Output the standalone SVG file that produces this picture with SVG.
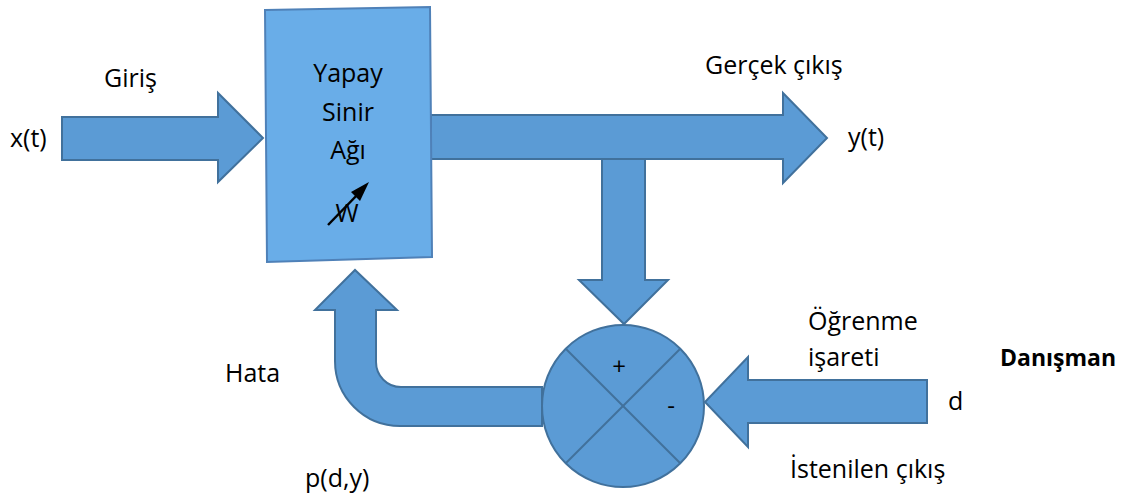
<svg xmlns="http://www.w3.org/2000/svg" width="1132" height="501" viewBox="0 0 1132 501">
<style>
.shape{fill:#5b9bd5;stroke:#41719c;stroke-width:2;stroke-linejoin:miter}
.box{fill:#69ade8;stroke:#4f81b8;stroke-width:2}
.t{font-family:"Open Sans","Liberation Sans",sans-serif;font-size:25px;fill:#000}
.c{text-anchor:middle}
.b{font-weight:bold;font-size:23px}
.line{stroke:#41719c;stroke-width:2}
</style>
<rect width="1132" height="501" fill="#fff"/>
<g id="connectors">
<path id="input-arrow" class="shape" d="M62,117 L218,117 L218,93 L263,138 L218,182 L218,160 L62,160 Z"/>
<path id="output-arrow" class="shape" d="M431,115 L783,115 L783,93 L827,138 L783,183 L783,159 L431,159 Z"/>
<path id="down-arrow" class="shape" d="M602,159 L645,159 L645,280 L668,280 L624,324 L579,280 L602,280 Z"/>
<path id="desired-arrow" class="shape" d="M927,380 L748,380 L748,357 L705,402 L748,447 L748,423 L927,423 Z"/>
<path id="error-arrow" class="shape" d="M542,387 L401,387 A25,25 0 0 1 376,362 L376,310 L397,310 L355,270 L315,310 L335,310 L335,361 A65,65 0 0 0 400,426 L542,426 Z"/>
</g>
<g id="ann">
<path class="box" d="M265,10 L430,7 L432,257 L267,262 Z"/>
<text class="t c" x="348" y="82">Yapay</text>
<text class="t c" x="348" y="121">Sinir</text>
<text class="t c" x="348" y="159">Ağı</text>
<text class="t c" x="347" y="222">W</text>
<line x1="328" y1="225" x2="360" y2="192" stroke="#000" stroke-width="2.5"/>
<path d="M369,182 L351,192 L360,201 Z" fill="#000"/>
</g>
<g id="sum">
<circle class="shape" cx="623" cy="406" r="81"/>
<line class="line" x1="566" y1="349" x2="680" y2="463"/>
<line class="line" x1="680" y1="349" x2="566" y2="463"/>
<text class="t c" x="619" y="375" style="font-size:24px">+</text>
<text class="t c" x="671" y="414" style="font-size:24px">-</text>
</g>
<g id="labels">
<text class="t" x="104" y="87">Giriş</text>
<text class="t" x="10" y="147">x(t)</text>
<text class="t" x="705" y="74">Gerçek çıkış</text>
<text class="t" x="848" y="146">y(t)</text>
<text class="t" x="808" y="330">Öğrenme</text>
<text class="t" x="808" y="366">işareti</text>
<text class="t b" x="1000" y="366">Danışman</text>
<text class="t" x="948" y="410">d</text>
<text class="t" x="790" y="478">İstenilen çıkış</text>
<text class="t" x="225" y="382">Hata</text>
<text class="t" x="305" y="487">p(d,y)</text>
</g>
</svg>
